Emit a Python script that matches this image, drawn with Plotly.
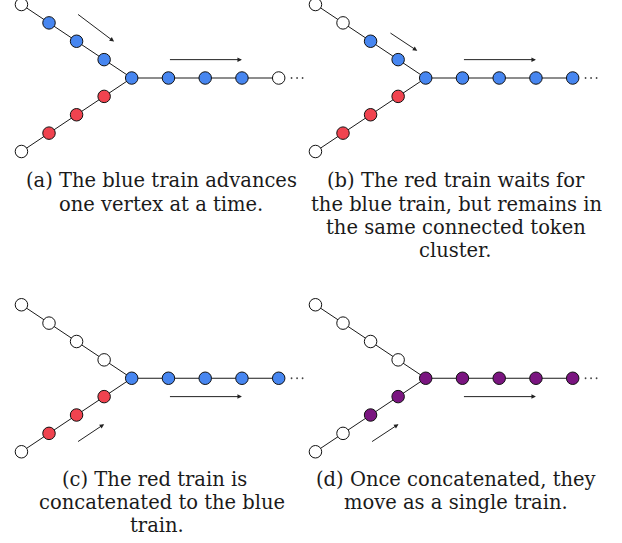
import plotly.graph_objects as go

# ---------------- data ----------------
# node states: E = empty, B = blue token, R = red token, P = purple (merged) token
# branches listed outer -> junction; right branch listed junction -> outward
panel_names = ["a", "b", "c", "d"]
upper_states = {
    "a": ["E", "B", "B", "B"],
    "b": ["E", "E", "B", "B"],
    "c": ["E", "E", "E", "E"],
    "d": ["E", "E", "E", "E"],
}
lower_states = {
    "a": ["E", "R", "R", "R"],
    "b": ["E", "R", "R", "R"],
    "c": ["E", "R", "R", "R"],
    "d": ["E", "E", "P", "P"],
}
junction_states = {"a": "B", "b": "B", "c": "B", "d": "P"}
right_states = {
    "a": ["B", "B", "B", "E"],
    "b": ["B", "B", "B", "B"],
    "c": ["B", "B", "B", "B"],
    "d": ["P", "P", "P", "P"],
}
captions = {
    "a": ["(a) The blue train advances", "one vertex at a time."],
    "b": ["(b) The red train waits for", "the blue train, but remains in",
          "the same connected token", "cluster."],
    "c": ["(c) The red train is", "concatenated to the blue", "train."],
    "d": ["(d) Once concatenated, they", "move as a single train."],
}

# ---------------- styles / layout ----------------
COLORS = {"E": "#ffffff", "B": "#4786f0", "R": "#f0434f", "P": "#7a1580"}
UNIT = 36.75                     # px per graph unit
W, H = 622, 543
JX0, JY0 = 131.7, 78.0           # junction of panel (a) in px
PANEL_OFF = {"a": (0, 0), "b": (8.0, 0), "c": (0, -8.17), "d": (8.0, -8.17)}
DX, DY = 0.75, 0.5               # diagonal step
DOT_OFFSETS = (0.35, 0.5, 0.65)  # ellipsis after last vertex
# arrows (tail -> head) in panel units
DIAG_ARROW = {
    "a": ((-1.5, 1.76), (-0.48, 0.99)),
    "b": ((-1.0, 1.25), (-0.23, 0.74)),
    "c": ((-1.5, -1.75), (-0.75, -1.25)),
    "d": ((-1.5, -1.75), (-0.74, -1.25)),
}
H_ARROW_Y = {"a": 0.5, "b": 0.5, "c": -0.5, "d": -0.5}
CAPTION_X = {"a": [161, 161], "b": [456, 456, 456, 455],
             "c": [154, 162, 157], "d": [456, 456]}
CAPTION_Y0 = {"a": 181, "b": 181, "c": 479, "d": 479}
LINE_H = 23.3
FONT = "DejaVu Serif"

fig = go.Figure()

for p in panel_names:
    ox, oy = PANEL_OFF[p]
    n_up = len(upper_states[p])
    n_lo = len(lower_states[p])
    up_xy = [(ox - DX * (n_up - i), oy + DY * (n_up - i)) for i in range(n_up)]
    lo_xy = [(ox - DX * (n_lo - i), oy - DY * (n_lo - i)) for i in range(n_lo)]
    j_xy = (ox, oy)
    rt_xy = [(ox + i + 1, oy) for i in range(len(right_states[p]))]

    # edges
    ex = [q[0] for q in up_xy] + [j_xy[0]] + [q[0] for q in rt_xy] + [None] + \
         [q[0] for q in lo_xy] + [j_xy[0]]
    ey = [q[1] for q in up_xy] + [j_xy[1]] + [q[1] for q in rt_xy] + [None] + \
         [q[1] for q in lo_xy] + [j_xy[1]]
    fig.add_trace(go.Scatter(x=ex, y=ey, mode="lines",
                             line=dict(color="#1a1a1a", width=1),
                             hoverinfo="skip", showlegend=False))

    # nodes
    pts = up_xy + lo_xy + [j_xy] + rt_xy
    sts = upper_states[p] + lower_states[p] + [junction_states[p]] + right_states[p]
    fig.add_trace(go.Scatter(
        x=[q[0] for q in pts], y=[q[1] for q in pts], mode="markers",
        marker=dict(size=12.5, color=[COLORS[s] for s in sts],
                    line=dict(color="#111111", width=1)),
        hoverinfo="skip", showlegend=False))

    # trailing ellipsis
    fig.add_trace(go.Scatter(
        x=[rt_xy[-1][0] + d for d in DOT_OFFSETS], y=[rt_xy[-1][1]] * 3,
        mode="markers", marker=dict(size=1.8, color="#444"),
        hoverinfo="skip", showlegend=False))

    # diagonal arrow
    (tx, ty), (hx, hy) = DIAG_ARROW[p]
    fig.add_annotation(x=ox + hx, y=oy + hy, ax=ox + tx, ay=oy + ty,
                       xref="x", yref="y", axref="x", ayref="y",
                       showarrow=True, arrowhead=2, arrowsize=0.9,
                       arrowwidth=1, arrowcolor="#222", text="")
    # horizontal arrow
    hy2 = H_ARROW_Y[p]
    fig.add_annotation(x=ox + 3.0, y=oy + hy2, ax=ox + 1.0, ay=oy + hy2,
                       xref="x", yref="y", axref="x", ayref="y",
                       showarrow=True, arrowhead=2, arrowsize=0.9,
                       arrowwidth=1, arrowcolor="#222", text="")

    # caption
    for k, line in enumerate(captions[p]):
        py = CAPTION_Y0[p] + k * LINE_H
        fig.add_annotation(x=CAPTION_X[p][k] / W, y=1 - py / H,
                           xref="paper", yref="paper", text=line,
                           showarrow=False, xanchor="center", yanchor="middle",
                           font=dict(family=FONT, size=19.5, color="#1a1a1a"))

fig.update_xaxes(range=[-JX0 / UNIT, (W - JX0) / UNIT], visible=False)
fig.update_yaxes(range=[-(H - JY0) / UNIT, JY0 / UNIT], visible=False)
fig.update_layout(width=W, height=H, margin=dict(l=0, r=0, t=0, b=0),
                  paper_bgcolor="white", plot_bgcolor="white")
fig.write_html("out.html",
               config={"displayModeBar": False, "staticPlot": True},
               post_script="document.body.style.margin='0';"
                           "document.body.style.overflow='hidden';")
